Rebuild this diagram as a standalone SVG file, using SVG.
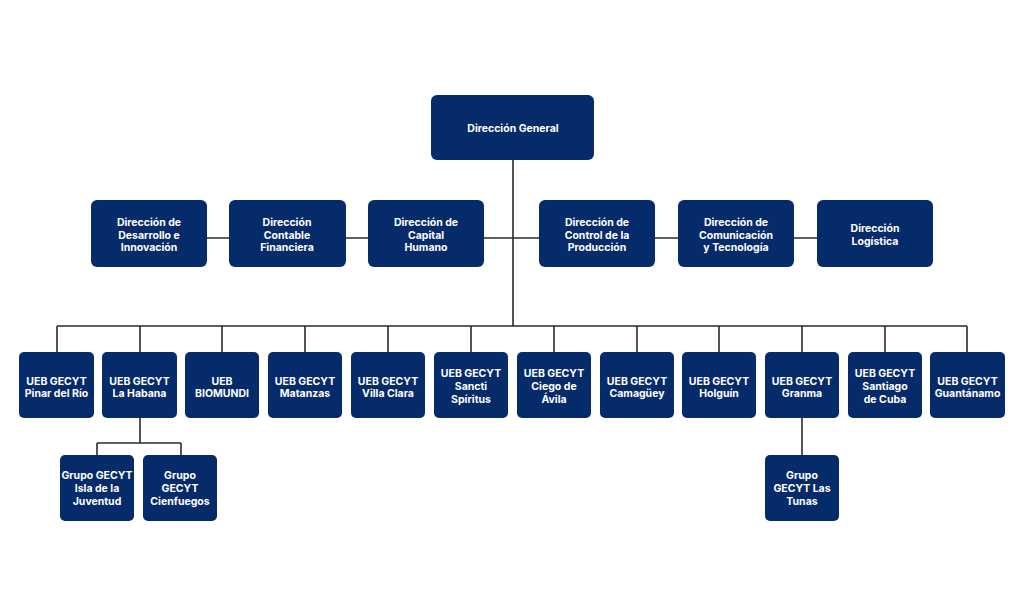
<svg xmlns="http://www.w3.org/2000/svg" width="1024" height="615" viewBox="0 0 1024 615">
<style>
.b{fill:#062b6b}
.t{fill:#fff;font-family:Inter,"Noto Sans",sans-serif;font-weight:700;font-size:10.5px;text-anchor:middle}
.c{stroke:#2b2b2b;stroke-width:1.6;fill:none}
</style>
<rect width="1024" height="615" fill="#fff"/>
<g id="connectors">
<path class="c" d="M513 160V326M149 238H875M57 326H967"/>
<path class="c" d="M57 326V352M140 326V352M222 326V352M305 326V352M388 326V352M471 326V352M554 326V352M637 326V352M719 326V352M802 326V352M885 326V352M967 326V352"/>
<path class="c" d="M140 418V443M97 443H181M97 443V455M181 443V455M802 418V455"/>
</g>
<g id="n-general"><rect class="b" x="431" y="95" width="163" height="65" rx="6"/><text class="t" x="513" y="132">Dirección General</text></g>
<g id="n-desarrollo"><rect class="b" x="91" y="200" width="116" height="67" rx="6"/><text class="t" x="149" y="226">Dirección de</text><text class="t" x="149" y="239">Desarrollo e</text><text class="t" x="149" y="251">Innovación</text></g>
<g id="n-contable"><rect class="b" x="229" y="200" width="117" height="67" rx="6"/><text class="t" x="287" y="226">Dirección</text><text class="t" x="287" y="239">Contable</text><text class="t" x="287" y="251">Financiera</text></g>
<g id="n-capital"><rect class="b" x="368" y="200" width="116" height="67" rx="6"/><text class="t" x="426" y="226">Dirección de</text><text class="t" x="426" y="239">Capital</text><text class="t" x="426" y="251">Humano</text></g>
<g id="n-control"><rect class="b" x="539" y="200" width="116" height="67" rx="6"/><text class="t" x="597" y="226">Dirección de</text><text class="t" x="597" y="239">Control de la</text><text class="t" x="597" y="251">Producción</text></g>
<g id="n-comunicacion"><rect class="b" x="678" y="200" width="116" height="67" rx="6"/><text class="t" x="736" y="226">Dirección de</text><text class="t" x="736" y="239">Comunicación</text><text class="t" x="736" y="251">y Tecnología</text></g>
<g id="n-logistica"><rect class="b" x="817" y="200" width="116" height="67" rx="6"/><text class="t" x="875" y="232">Dirección</text><text class="t" x="875" y="245">Logística</text></g>
<g id="n-pinar"><rect class="b" x="19" y="352" width="75" height="66" rx="5"/><text class="t" x="56.5" y="385">UEB GECYT</text><text class="t" x="56.5" y="397">Pinar del Río</text></g>
<g id="n-habana"><rect class="b" x="102" y="352" width="75" height="66" rx="5"/><text class="t" x="139.5" y="385">UEB GECYT</text><text class="t" x="139.5" y="397">La Habana</text></g>
<g id="n-biomundi"><rect class="b" x="185" y="352" width="74" height="66" rx="5"/><text class="t" x="222" y="385">UEB</text><text class="t" x="222" y="397">BIOMUNDI</text></g>
<g id="n-matanzas"><rect class="b" x="268" y="352" width="74" height="66" rx="5"/><text class="t" x="305" y="385">UEB GECYT</text><text class="t" x="305" y="397">Matanzas</text></g>
<g id="n-villaclara"><rect class="b" x="351" y="352" width="74" height="66" rx="5"/><text class="t" x="388" y="385">UEB GECYT</text><text class="t" x="388" y="397">Villa Clara</text></g>
<g id="n-sancti"><rect class="b" x="434" y="352" width="74" height="66" rx="5"/><text class="t" x="471" y="377">UEB GECYT</text><text class="t" x="471" y="390">Sancti</text><text class="t" x="471" y="403">Spíritus</text></g>
<g id="n-ciego"><rect class="b" x="517" y="352" width="74" height="66" rx="5"/><text class="t" x="554" y="377">UEB GECYT</text><text class="t" x="554" y="390">Ciego de</text><text class="t" x="554" y="403">Ávila</text></g>
<g id="n-camaguey"><rect class="b" x="600" y="352" width="74" height="66" rx="5"/><text class="t" x="637" y="385">UEB GECYT</text><text class="t" x="637" y="397">Camagüey</text></g>
<g id="n-holguin"><rect class="b" x="682" y="352" width="74" height="66" rx="5"/><text class="t" x="719" y="385">UEB GECYT</text><text class="t" x="719" y="397">Holguín</text></g>
<g id="n-granma"><rect class="b" x="765" y="352" width="74" height="66" rx="5"/><text class="t" x="802" y="385">UEB GECYT</text><text class="t" x="802" y="397">Granma</text></g>
<g id="n-santiago"><rect class="b" x="848" y="352" width="74" height="66" rx="5"/><text class="t" x="885" y="377">UEB GECYT</text><text class="t" x="885" y="390">Santiago</text><text class="t" x="885" y="403">de Cuba</text></g>
<g id="n-guantanamo"><rect class="b" x="930" y="352" width="75" height="66" rx="5"/><text class="t" x="967.5" y="385">UEB GECYT</text><text class="t" x="967.5" y="397">Guantánamo</text></g>
<g id="n-isla"><rect class="b" x="60" y="455" width="74" height="66" rx="5"/><text class="t" x="97" y="479">Grupo GECYT</text><text class="t" x="97" y="492">Isla de la</text><text class="t" x="97" y="505">Juventud</text></g>
<g id="n-cienfuegos"><rect class="b" x="143" y="455" width="74" height="66" rx="5"/><text class="t" x="180" y="479">Grupo</text><text class="t" x="180" y="492">GECYT</text><text class="t" x="180" y="505">Cienfuegos</text></g>
<g id="n-lastunas"><rect class="b" x="765" y="455" width="74" height="66" rx="5"/><text class="t" x="802" y="479">Grupo</text><text class="t" x="802" y="492">GECYT Las</text><text class="t" x="802" y="505">Tunas</text></g>
</svg>
